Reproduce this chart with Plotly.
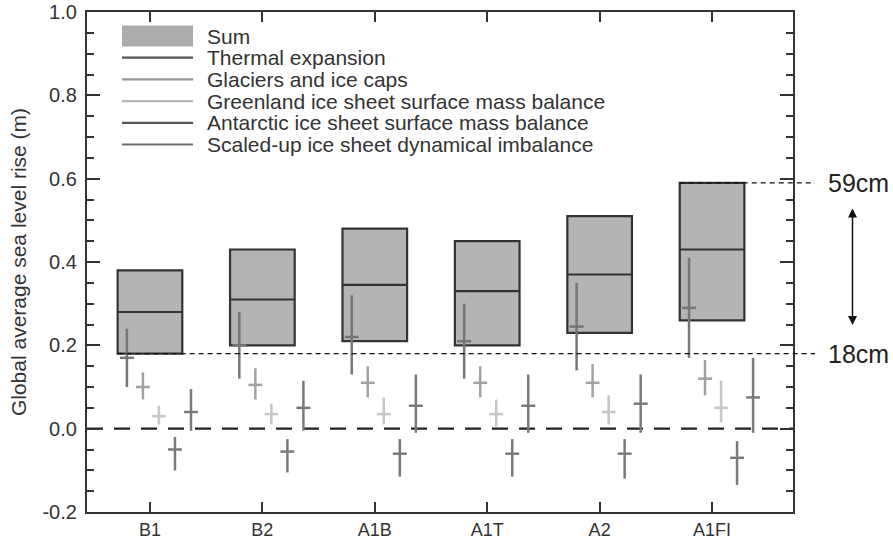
import plotly.graph_objects as go

# Emission scenarios
scenarios = ["B1", "B2", "A1B", "A1T", "A2", "A1FI"]

# Sum of contributions: 5-95% range and central value (m)
sum_low = [0.18, 0.20, 0.21, 0.20, 0.23, 0.26]
sum_mid = [0.28, 0.31, 0.345, 0.33, 0.37, 0.43]
sum_high = [0.38, 0.43, 0.48, 0.45, 0.51, 0.59]

# Individual components: low, central, high (m)
thermal_low = [0.10, 0.12, 0.13, 0.12, 0.14, 0.17]
thermal_mid = [0.17, 0.20, 0.22, 0.21, 0.245, 0.29]
thermal_high = [0.24, 0.28, 0.32, 0.30, 0.35, 0.41]

glacier_low = [0.07, 0.07, 0.075, 0.075, 0.075, 0.08]
glacier_mid = [0.10, 0.105, 0.11, 0.11, 0.11, 0.12]
glacier_high = [0.135, 0.145, 0.15, 0.15, 0.155, 0.165]

greenland_low = [0.01, 0.01, 0.01, 0.005, 0.01, 0.015]
greenland_mid = [0.03, 0.035, 0.035, 0.035, 0.04, 0.05]
greenland_high = [0.055, 0.06, 0.075, 0.07, 0.08, 0.115]

antarctic_low = [-0.10, -0.105, -0.115, -0.115, -0.12, -0.135]
antarctic_mid = [-0.05, -0.055, -0.06, -0.06, -0.06, -0.07]
antarctic_high = [-0.02, -0.025, -0.025, -0.025, -0.025, -0.03]

dynamic_low = [-0.005, -0.005, -0.01, -0.01, -0.01, -0.01]
dynamic_mid = [0.04, 0.05, 0.055, 0.055, 0.06, 0.075]
dynamic_high = [0.095, 0.115, 0.13, 0.13, 0.13, 0.17]

y_ticks = [-0.2, 0.0, 0.2, 0.4, 0.6, 0.8, 1.0]
y_ticktext = ["-0.2", "0.0", "0.2", "0.4", "0.6", "0.8", "1.0"]

legend_labels = [
    "Sum",
    "Thermal expansion",
    "Glaciers and ice caps",
    "Greenland ice sheet surface mass balance",
    "Antarctic ice sheet surface mass balance",
    "Scaled-up ice sheet dynamical imbalance",
]

FONT = "Liberation Sans, Arial, Helvetica, sans-serif"
INK = "#333333"
BOX_FILL = "#b4b4b6"
X_RANGE = [0.44, 6.72]
Y_RANGE = [-0.2, 1.0]
BOX_WIDTH = 0.575

W, H = 893, 540
M_L, M_R, M_T, M_B = 87, 100, 12, 28
PLOT_W = W - M_L - M_R
PLOT_H = H - M_T - M_B


def px_x(p):
    return (p - M_L) / PLOT_W


def px_y(p):
    return 1 - (p - M_T) / PLOT_H


def data_x_to_paper(v):
    return (v - X_RANGE[0]) / (X_RANGE[1] - X_RANGE[0])


def data_y_to_paper(v):
    return (v - Y_RANGE[0]) / (Y_RANGE[1] - Y_RANGE[0])


positions = list(range(1, len(scenarios) + 1))

fig = go.Figure()

# Sum ranges as boxes with the central value as a median line
fig.add_trace(go.Box(
    x=positions,
    q1=sum_low,
    median=sum_mid,
    q3=sum_high,
    lowerfence=sum_low,
    upperfence=sum_high,
    width=BOX_WIDTH,
    whiskerwidth=0,
    fillcolor=BOX_FILL,
    line=dict(color=INK, width=2.2),
    boxpoints=False,
    hoverinfo="skip",
    showlegend=False,
))

# Component ranges drawn as crosses, offset beside each scenario
components = [
    (thermal_low, thermal_mid, thermal_high, "#767676"),
    (glacier_low, glacier_mid, glacier_high, "#a2a2a2"),
    (greenland_low, greenland_mid, greenland_high, "#c6c6c6"),
    (antarctic_low, antarctic_mid, antarctic_high, "#7a7a7a"),
    (dynamic_low, dynamic_mid, dynamic_high, "#7a7a7a"),
]
offsets = [-0.205, -0.0625, 0.08, 0.2225, 0.365]

for (lo, mid, hi, col), off in zip(components, offsets):
    fig.add_trace(go.Scatter(
        x=[p + off for p in positions],
        y=mid,
        mode="markers",
        marker=dict(size=1, color="rgba(0,0,0,0)"),
        error_y=dict(
            type="data", symmetric=False,
            array=[h - m for h, m in zip(hi, mid)],
            arrayminus=[m - l for m, l in zip(mid, lo)],
            color=col, thickness=2.5, width=0,
        ),
        error_x=dict(type="constant", value=0.062, color=col,
                     thickness=2.5, width=0),
        hoverinfo="skip",
        showlegend=False,
    ))

shapes = []
annotations = []

# Zero line
shapes.append(dict(
    type="line", xref="paper", yref="paper",
    x0=0, x1=1, y0=data_y_to_paper(0), y1=data_y_to_paper(0),
    line=dict(color="#222222", width=2.4, dash="16px,11px"),
    layer="below",
))

# Reference lines at the lowest and highest sum values
low_val = sum_low[0]
high_val = sum_high[-1]
ref_end = px_x(815)
shapes.append(dict(
    type="line", xref="paper", yref="paper",
    x0=data_x_to_paper(positions[0] - BOX_WIDTH / 2), x1=ref_end,
    y0=data_y_to_paper(low_val), y1=data_y_to_paper(low_val),
    line=dict(color="#111111", width=1.3, dash="5px,4px"),
))
shapes.append(dict(
    type="line", xref="paper", yref="paper",
    x0=data_x_to_paper(positions[-1] - BOX_WIDTH / 2), x1=ref_end,
    y0=data_y_to_paper(high_val), y1=data_y_to_paper(high_val),
    line=dict(color="#111111", width=1.3, dash="5px,4px"),
))

for v in (high_val, low_val):
    annotations.append(dict(
        x=px_x(826), y=data_y_to_paper(v), xref="paper", yref="paper",
        text=f"{round(v * 100)}cm", showarrow=False,
        xanchor="left", yanchor="middle",
        font=dict(family=FONT, size=25, color="#222222"),
    ))

# Double-headed arrow between the two reference levels
annotations.append(dict(
    x=px_x(852.5), y=px_y(325), xref="paper", yref="paper",
    ax=0, ay=207 - 325, axref="pixel", ayref="pixel",
    text="", showarrow=True,
    arrowhead=2, startarrowhead=2, arrowside="end+start",
    arrowsize=1.2, startarrowsize=1.2, arrowwidth=1.5,
    arrowcolor="#111111", standoff=0, startstandoff=0,
))

# Legend drawn by hand
sw_x0, sw_x1 = px_x(122), px_x(193)
row_y = [36 + 21.7 * k for k in range(len(legend_labels))]
legend_colors = [None, "#555555", "#959595", "#b8b8b8", "#555555", "#6e6e6e"]
for i, (label, ry) in enumerate(zip(legend_labels, row_y)):
    if i == 0:
        shapes.append(dict(
            type="rect", xref="paper", yref="paper",
            x0=sw_x0, x1=sw_x1, y0=px_y(ry + 10.5), y1=px_y(ry - 10.5),
            fillcolor="#acacac", line=dict(width=0),
        ))
    else:
        shapes.append(dict(
            type="line", xref="paper", yref="paper",
            x0=sw_x0, x1=sw_x1, y0=px_y(ry), y1=px_y(ry),
            line=dict(color=legend_colors[i], width=2.2),
        ))
    annotations.append(dict(
        x=px_x(205), y=px_y(ry), xref="paper", yref="paper",
        text=label, showarrow=False, xanchor="left", yanchor="middle",
        font=dict(family=FONT, size=21, color="#333333"),
    ))

axis_common = dict(
    showline=True, linecolor=INK, linewidth=2.2, mirror="ticks",
    ticks="inside", tickcolor=INK, tickwidth=2,
    showgrid=False, zeroline=False, automargin=False,
)

fig.update_layout(
    width=W, height=H, autosize=False,
    margin=dict(l=M_L, r=M_R, t=M_T, b=M_B, pad=0),
    paper_bgcolor="white", plot_bgcolor="white",
    showlegend=False,
    shapes=shapes, annotations=annotations,
    xaxis=dict(
        range=X_RANGE, tickvals=positions, ticktext=scenarios,
        ticklen=10, ticklabelstandoff=0,
        tickfont=dict(family=FONT, size=18, color="#333333"),
        **axis_common,
    ),
    yaxis=dict(
        range=Y_RANGE, tickvals=y_ticks, ticktext=y_ticktext,
        ticklen=13, ticklabelstandoff=4,
        tickfont=dict(family=FONT, size=20, color="#333333"),
        minor=dict(tickvals=[round(-0.2 + 0.05 * k, 2) for k in range(25)],
                   ticks="inside", ticklen=7, tickwidth=2, tickcolor=INK,
                   showgrid=False),
        title=dict(text="Global average sea level rise (m)",
                   font=dict(family=FONT, size=21, color="#333333"),
                   standoff=10),
        **axis_common,
    ),
)

fig.write_html("out.html")
